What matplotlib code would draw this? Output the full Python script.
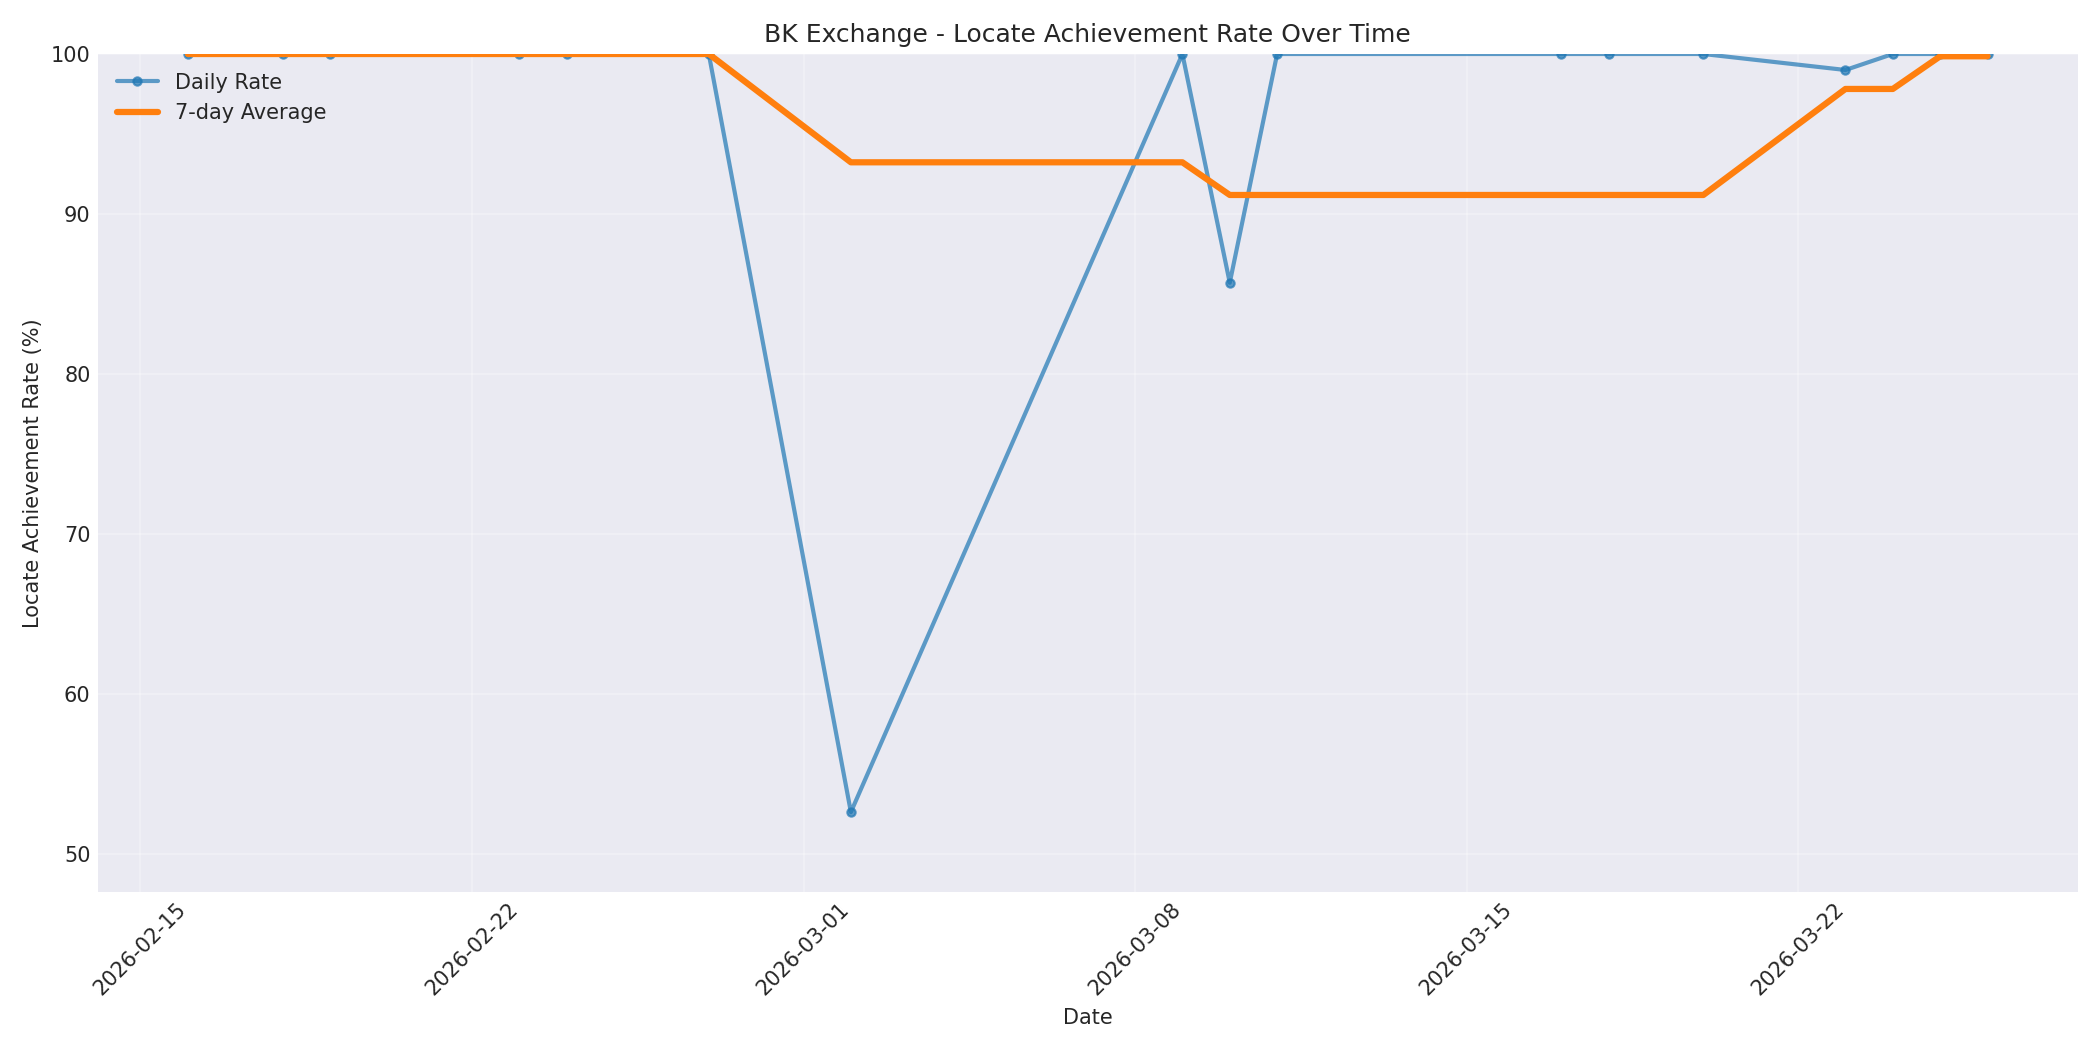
import matplotlib
matplotlib.use("Agg")
import matplotlib.pyplot as plt
import matplotlib.dates as mdates
import pandas as pd

# daily locate achievement (%)
dates = ["2026-02-16", "2026-02-18", "2026-02-19", "2026-02-23", "2026-02-24",
         "2026-02-27", "2026-03-02", "2026-03-09", "2026-03-10", "2026-03-11",
         "2026-03-17", "2026-03-18", "2026-03-20", "2026-03-23", "2026-03-24",
         "2026-03-25", "2026-03-26"]
rates = [100, 100, 100, 100, 100,
         100, 52.6, 100, 85.7, 100,
         100, 100, 100, 99.0, 100,
         100, 100]

plt.style.use("seaborn-v0_8-darkgrid")
plt.rcParams["font.family"] = ["DejaVu Sans"]

df = pd.DataFrame({"date": pd.to_datetime(dates), "rate": rates})
df["avg7"] = df["rate"].rolling(7, min_periods=1).mean()

fig, ax = plt.subplots(figsize=(14, 7), dpi=150)
ax.plot(df["date"], df["rate"], marker="o", markersize=4, linewidth=2,
        alpha=0.7, label="Daily Rate")
ax.plot(df["date"], df["avg7"], linewidth=3, label="7-day Average")

ax.set_title("BK Exchange - Locate Achievement Rate Over Time")
ax.set_xlabel("Date")
ax.set_ylabel("Locate Achievement Rate (%)")
ax.set_ylim(min(rates) - 5, 100)
ax.grid(True, alpha=0.3)
ax.legend(loc="upper left")
ax.xaxis.set_major_locator(mdates.DayLocator(bymonthday=[1, 8, 15, 22]))
ax.xaxis.set_major_formatter(mdates.DateFormatter("%Y-%m-%d"))
plt.xticks(rotation=45)

plt.tight_layout()
plt.savefig("out.png")
